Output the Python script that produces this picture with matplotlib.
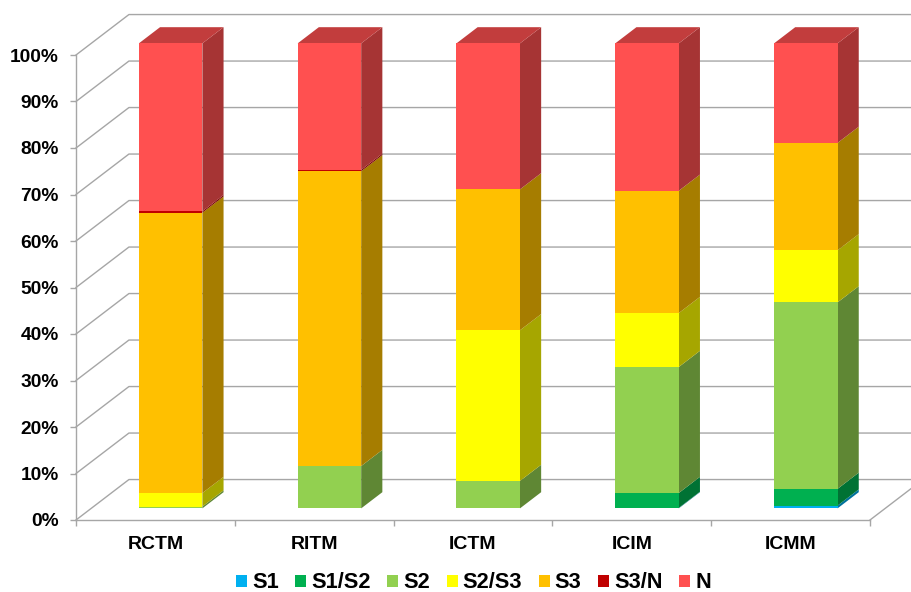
import matplotlib
matplotlib.use('Agg')
import matplotlib.pyplot as plt
from matplotlib.colors import to_rgb
from matplotlib.patches import Patch

plt.rcParams['font.family'] = ['Liberation Sans', 'DejaVu Sans']

categories = ['RCTM', 'RITM', 'ICTM', 'ICIM', 'ICMM']
series_names = ['S1', 'S1/S2', 'S2', 'S2/S3', 'S3', 'S3/N', 'N']
series_colors = ['#00B0F0', '#00B050', '#92D050', '#FFFF00', '#FFC000', '#C00000', '#FF5050']

s1 = [0, 0, 0, 0.1, 0.6]
s1_s2 = [0, 0, 0, 3.2, 3.6]
s2 = [0.4, 9.1, 5.9, 27.1, 40.1]
s2_s3 = [2.9, 0, 32.4, 11.6, 11.2]
s3 = [60.3, 63.4, 30.3, 26.3, 23.1]
s3_n = [0.3, 0.3, 0, 0, 0]
n = [36.1, 27.2, 31.4, 31.7, 21.4]
series_values = [s1, s1_s2, s2, s2_s3, s3, s3_n, n]

y_ticks = list(range(0, 101, 10))

GRID = '#A6A6A6'
FONT = 13.8

# oblique projection of the depth axis, in category / percent units
DEPTH_X = 53 / 159
DEPTH_Y = 8.7
BAR_WIDTH = 0.4
BAR_NEAR = 0.2875
BAR_FAR = 0.6875


def shade(color, factor):
    return tuple(c * factor for c in to_rgb(color))


def side_face(ax, right, low, high, color):
    near_x = right + BAR_NEAR * DEPTH_X
    far_x = right + BAR_FAR * DEPTH_X
    near_y = BAR_NEAR * DEPTH_Y
    far_y = BAR_FAR * DEPTH_Y
    ax.fill([near_x, far_x, far_x, near_x],
            [low + near_y, low + far_y, high + far_y, high + near_y],
            facecolor=shade(color, 0.65), edgecolor='none', clip_on=False, zorder=3)


def top_face(ax, left, right, level, color):
    near_y = level + BAR_NEAR * DEPTH_Y
    far_y = level + BAR_FAR * DEPTH_Y
    ax.fill([left + BAR_NEAR * DEPTH_X, right + BAR_NEAR * DEPTH_X,
             right + BAR_FAR * DEPTH_X, left + BAR_FAR * DEPTH_X],
            [near_y, near_y, far_y, far_y],
            facecolor=shade(color, 0.76), edgecolor='none', clip_on=False, zorder=3)


fig = plt.figure(figsize=(9.12, 5.92), dpi=100)
ax = fig.add_axes([76 / 912, 72 / 592, 794 / 912, 465 / 592])
ax.set_xlim(0, len(categories))
ax.set_ylim(0, 100)

# side wall and back wall gridlines
for tick in y_ticks:
    ax.plot([0, DEPTH_X, len(categories) + 2 * DEPTH_X],
            [tick, tick + DEPTH_Y, tick + DEPTH_Y],
            color=GRID, lw=1.0, clip_on=False, zorder=1)

# right edge of the floor
ax.plot([len(categories), len(categories) + DEPTH_X], [0, DEPTH_Y],
        color=GRID, lw=1.0, clip_on=False, zorder=1)

# stacked columns
bottoms = [0.0] * len(categories)
for name, values, color in zip(series_names, series_values, series_colors):
    for i, value in enumerate(values):
        if value <= 0:
            continue
        centre = i + 0.5
        ax.bar(centre + BAR_NEAR * DEPTH_X, value, width=BAR_WIDTH,
               bottom=bottoms[i] + BAR_NEAR * DEPTH_Y, color=color,
               edgecolor='none', clip_on=False, zorder=4)
        side_face(ax, centre + BAR_WIDTH / 2, bottoms[i], bottoms[i] + value, color)
    bottoms = [b + v for b, v in zip(bottoms, values)]

for i, total in enumerate(bottoms):
    top_face(ax, i + 0.5 - BAR_WIDTH / 2, i + 0.5 + BAR_WIDTH / 2, total, series_colors[-1])

for side in ['top', 'right']:
    ax.spines[side].set_visible(False)
for side in ['left', 'bottom']:
    ax.spines[side].set_color(GRID)
    ax.spines[side].set_linewidth(1.0)

ax.set_yticks(y_ticks)
ax.set_yticklabels([f'{t}%' for t in y_ticks], fontsize=FONT, fontweight='bold')
ax.set_xticks(range(len(categories) + 1))
ax.set_xticklabels([])
ax.set_xticks([i + 0.5 for i in range(len(categories))], minor=True)
ax.set_xticklabels(categories, minor=True, fontsize=14, fontweight='bold')
ax.tick_params(axis='both', which='major', color=GRID, length=4.5, width=1.0)
ax.tick_params(axis='y', pad=8)
ax.tick_params(axis='x', which='minor', length=0, pad=11.5)

handles = [Patch(facecolor=c, edgecolor='none', label=s) for s, c in zip(series_names, series_colors)]
fig.legend(handles=handles, loc='center', bbox_to_anchor=(473.5 / 912, 1 - 583 / 592), ncol=7,
           frameon=False, handlelength=0.5, handleheight=0.5, handletextpad=0.24,
           columnspacing=0.75, borderpad=0, prop={'size': 15.7, 'weight': 'bold'})

fig.savefig('out.png', dpi=100)
